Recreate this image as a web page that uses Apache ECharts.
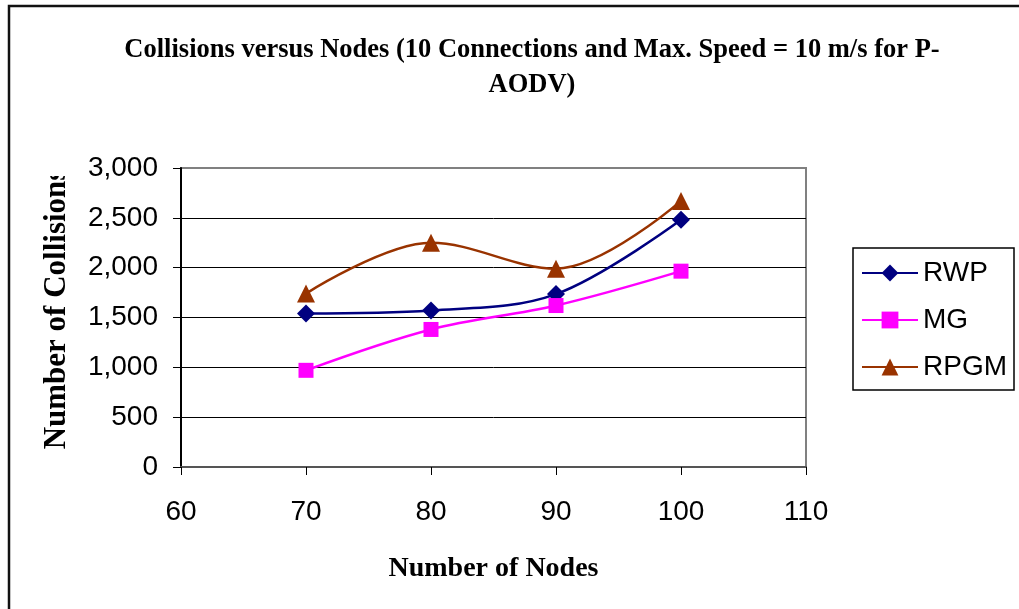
<!DOCTYPE html>
<html>
<head>
<meta charset="utf-8">
<script src="https://cdn.jsdelivr.net/npm/echarts@6/dist/echarts.min.js"></script>
<style>
html,body{margin:0;padding:0;background:#fff;}
#chart{width:1019px;height:609px;}
</style>
</head>
<body>
<div id="chart"></div>
<script>
const nodes = [70, 80, 90, 100];
const rwp = [1540, 1570, 1735, 2480];
const mg = [970, 1380, 1620, 1965];
const rpgm = [1740, 2250, 1990, 2670];
const xTicks = [60, 70, 80, 90, 100, 110];
const yTicks = [0, 500, 1000, 1500, 2000, 2500, 3000];
const seriesNames = ['RWP', 'MG', 'RPGM'];

const pair = (arr) => nodes.map((n, i) => [n, arr[i]]);
const chart = echarts.init(document.getElementById('chart'));
const serif = "'Liberation Serif','Times New Roman',serif";
const sans = "'Liberation Sans',Arial,sans-serif";

function mkSeries(name, data, color, symbol, size) {
  return {
    name, type: 'line', data: pair(data), smooth: 0.35,
    symbol, symbolSize: size,
    lineStyle: { color, width: 2.5 },
    itemStyle: { color },
    z: 5
  };
}

chart.setOption({
  animation: false,
  backgroundColor: '#fff',
  title: {
    text: 'Collisions versus Nodes (10 Connections and Max. Speed = 10 m/s for P-\nAODV)',
    left: 527, top: 28, textAlign: 'center',
    textStyle: { fontFamily: serif, fontWeight: 'bold', fontSize: 26.5, lineHeight: 35, color: '#000' }
  },
  grid: {
    left: 181, right: 213, top: 168, bottom: 142,
    show: true, borderColor: '#808080', borderWidth: 2, backgroundColor: '#fff'
  },
  legend: {
    orient: 'vertical', left: 853, top: 248,
    data: seriesNames,
    itemWidth: 56, itemHeight: 21, itemGap: 19,
    padding: [11, 7, 9, 8],
    borderColor: '#000', borderWidth: 1.5,
    textStyle: { fontFamily: sans, fontSize: 28, color: '#000' }
  },
  xAxis: {
    type: 'value', min: xTicks[0], max: xTicks[xTicks.length - 1], interval: 10,
    axisLine: { lineStyle: { color: '#555', width: 2 } },
    axisTick: { show: true, length: 8, lineStyle: { color: '#000', width: 1 } },
    axisLabel: { fontFamily: sans, fontSize: 28, color: '#000', margin: 31 },
    splitLine: { show: false },
    name: 'Number of Nodes', nameLocation: 'middle', nameGap: 88,
    nameTextStyle: { fontFamily: serif, fontWeight: 'bold', fontSize: 28, color: '#000' }
  },
  yAxis: {
    type: 'value', min: yTicks[0], max: yTicks[yTicks.length - 1], interval: 500,
    axisLine: { show: true, lineStyle: { color: '#000', width: 2 } },
    axisTick: { show: true, length: 8, lineStyle: { color: '#000', width: 1 } },
    axisLabel: {
      fontFamily: sans, fontSize: 28, color: '#000', margin: 23,
      formatter: (v) => v.toLocaleString('en-US')
    },
    splitLine: { show: true, showMaxLine: false, lineStyle: { color: '#000', width: 1 } }
  },
  graphic: [
    { type: 'rect', shape: { x: 9, y: 6, width: 1030, height: 620 }, style: { fill: 'none', stroke: '#111', lineWidth: 2.5 }, z: 100 },
    {
      type: 'text', x: 57, y: 309, rotation: Math.PI / 2, z: 50,
      style: { text: 'Number of Collisions', fontFamily: serif, fontWeight: 'bold', fontSize: 31, fill: '#000', align: 'center', verticalAlign: 'middle' }
    },
    { type: 'rect', shape: { x: 30, y: 100, width: 50, height: 76 }, style: { fill: '#fff' }, z: 60 }
  ],
  series: [
    mkSeries('RWP', rwp, '#000080', 'diamond', 18),
    mkSeries('MG', mg, '#FF00FF', 'rect', 15),
    mkSeries('RPGM', rpgm, '#993300', 'triangle', 18)
  ]
});
</script>
</body>
</html>
